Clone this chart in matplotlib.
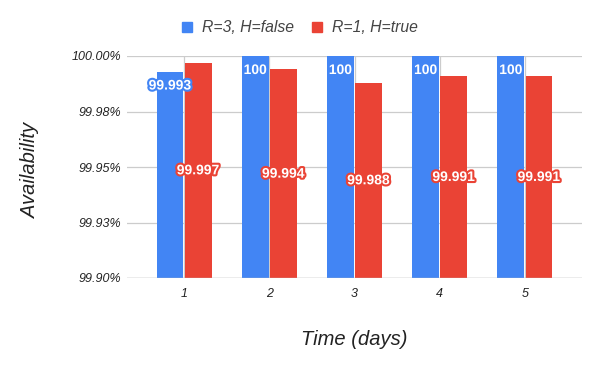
import matplotlib
matplotlib.use("Agg")
import matplotlib.pyplot as plt
import matplotlib.patheffects as pe
from matplotlib.patches import Patch
import numpy as np

days = [1, 2, 3, 4, 5]
series_names = ["R=3, H=false", "R=1, H=true"]
r3_values = [99.993, 100, 100, 100, 100]
r3_labels = ["99.993", "100", "100", "100", "100"]
r1_values = [99.997, 99.994, 99.988, 99.991, 99.991]
r1_labels = ["99.997", "99.994", "99.988", "99.991", "99.991"]
yticks = [99.9, 99.925, 99.95, 99.975, 100.0]
ytick_labels = ["99.90%", "99.93%", "99.95%", "99.98%", "100.00%"]

BLUE = "#4285F4"
RED = "#EA4335"
GRID = "#cccccc"
FONT = "Liberation Sans"
base = 99.9

fig = plt.figure(figsize=(6, 3.71), dpi=100)
ax = fig.add_axes([127/600, (371-278)/371, 455/600, 222/371])

x = np.array(days, dtype=float)
off = 0.165
w = 0.315
b1 = ax.bar(x - off, np.array(r3_values) - base, bottom=base, width=w, color=BLUE, zorder=3)
b2 = ax.bar(x + off, np.array(r1_values) - base, bottom=base, width=w, color=RED, zorder=3)

ax.set_xlim(0.33, 5.67)
ax.set_ylim(99.9, 100.0)
ax.set_yticks(yticks)
ax.set_yticklabels(ytick_labels)
ax.set_xticks(days)
ax.set_xticklabels([str(d) for d in days])
for lab in ax.get_yticklabels() + ax.get_xticklabels():
    lab.set_fontfamily(FONT)
    lab.set_fontstyle("italic")
    lab.set_fontsize(9)
    lab.set_color("#222222")
ax.tick_params(axis="y", length=0, pad=4.3)
ax.tick_params(axis="x", length=0, pad=7.5)
ax.grid(True, axis="both", color=GRID, linewidth=0.9, zorder=0)
for s in ax.spines.values():
    s.set_visible(False)
ax.axhline(99.9, color="#bbbbbb", linewidth=1, zorder=4)

# blue labels near top inside bar
for xi, v, t in zip(x - off, r3_values, r3_labels):
    ax.annotate(t, (xi, v), xytext=(0, -14), textcoords="offset pixels",
                ha="center", va="center", fontsize=10, fontweight="bold",
                fontfamily=FONT, color="white", zorder=6,
                path_effects=[pe.withStroke(linewidth=3, foreground=BLUE)])
# red labels at bar center
for xi, v, t in zip(x + off, r1_values, r1_labels):
    ax.annotate(t, (xi, (v + base) / 2), ha="center", va="center",
                fontsize=10, fontweight="bold", fontfamily=FONT,
                color="white", zorder=6,
                path_effects=[pe.withStroke(linewidth=3, foreground=RED)])

ax.set_xlabel("Time (days)", fontsize=14.5, fontstyle="italic", fontfamily=FONT, color="#222222")
ax.xaxis.set_label_coords(0.5, -0.279)
ax.xaxis.label.set_va("center")
ax.set_ylabel("Availability", fontsize=14.5, fontstyle="italic", fontfamily=FONT, color="#222222")
ax.yaxis.set_label_coords(-0.213, 0.486)
ax.yaxis.label.set_va("center")

handles = [Patch(color=BLUE), Patch(color=RED)]
leg = fig.legend(handles, series_names, loc="center", bbox_to_anchor=(0.5, (371-28)/371),
                 ncol=2, frameon=False, handlelength=0.65, handleheight=0.65,
                 handletextpad=0.65, columnspacing=1.1,
                 prop={"family": FONT, "style": "italic", "size": 11.3})
for t in leg.get_texts():
    t.set_color("#444444")

fig.savefig("out.png", dpi=100)
